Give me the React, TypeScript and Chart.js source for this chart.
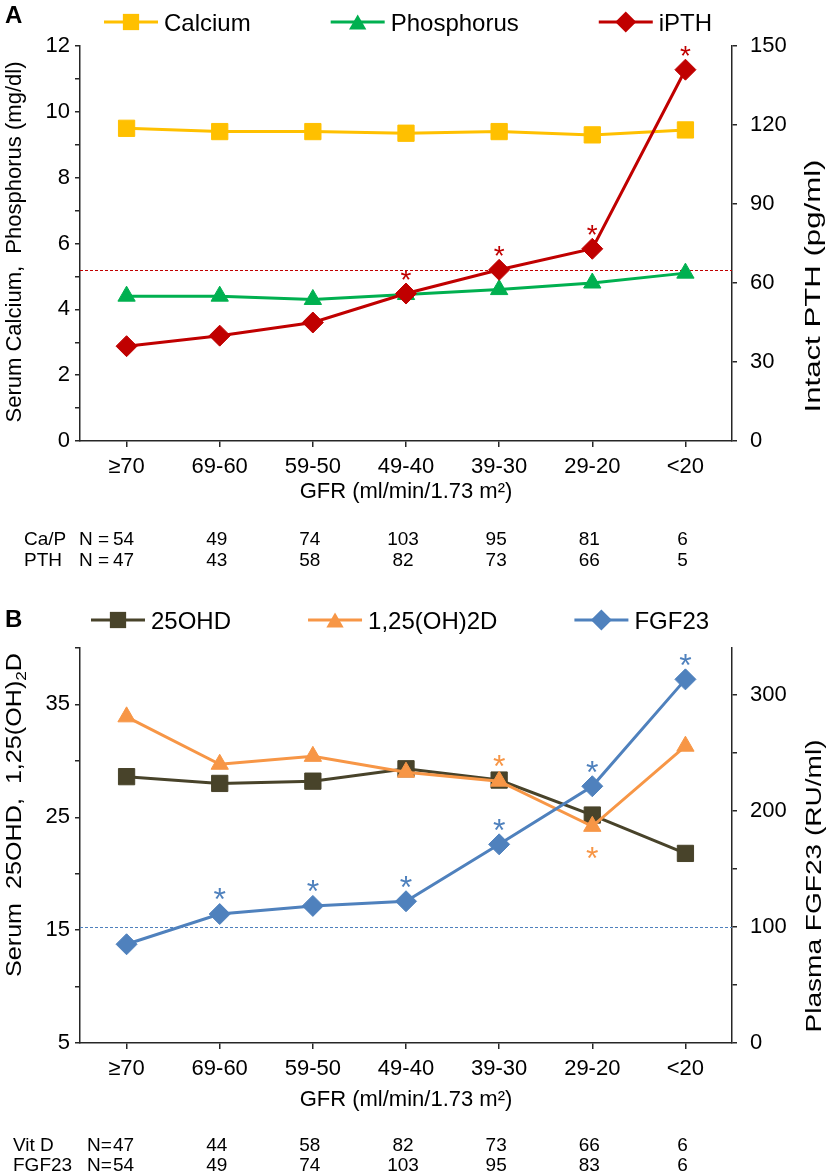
import React, { useEffect, useRef } from 'react';
import { Chart, registerables } from 'chart.js';
import { drawPoint } from 'chart.js/helpers';

Chart.register(...registerables);

// ---------- data ----------
const gfrCategories = ['≥70', '69-60', '59-50', '49-40', '39-30', '29-20', '<20'];

// Panel A
const calcium = [9.5, 9.4, 9.4, 9.35, 9.4, 9.3, 9.45];
const phosphorus = [4.4, 4.4, 4.3, 4.45, 4.6, 4.8, 5.1];
const ipth = [36, 40, 45, 56, 65, 73, 141];
const ipthStars = [0, 0, 0, 1, 1, 1, 1];
const pthUpperNormal = 65;
const caPN = [54, 49, 74, 103, 95, 81, 6];
const pthN = [47, 43, 58, 82, 73, 66, 5];
const leftLabelsA = [0, 2, 4, 6, 8, 10, 12];

// Panel B
const ohd25 = [28.6, 28.0, 28.2, 29.3, 28.3, 25.2, 21.8];
const ohd125 = [33.9, 29.7, 30.4, 29.0, 28.2, 24.2, 31.3];
const fgf23 = [85, 111, 118, 122, 171, 221, 313];
const ohd125Stars = [0, 0, 0, 0, 1, -1, 0];
const fgf23Stars = [0, 1, 1, 1, 1, 1, 1];
const fgf23UpperNormal = 100;
const vitDN = [47, 44, 58, 82, 73, 66, 6];
const fgf23N = [54, 49, 74, 103, 95, 83, 6];
const leftLabelsB = [5, 15, 25, 35];
const rightTicksB = [0, 50, 100, 150, 200, 250, 300];
const rightLabelsB = [0, 100, 200, 300];

// ---------- styles ----------
const FONT = "'Liberation Sans', Arial, Helvetica, sans-serif";
const AXIS = '#262626';
const YEL = '#FFC000';
const GRN = '#00B050';
const RED = '#C00000';
const DARK = '#48432A';
const ORG = '#F79646';
const BLU = '#4F81BD';

type Seg = { text: string; size: number; dy?: number };

function segWidth(ctx: CanvasRenderingContext2D, segs: Seg[]) {
  let w = 0;
  for (const s of segs) {
    ctx.font = `${s.size}px ${FONT}`;
    w += ctx.measureText(s.text).width;
  }
  return w;
}

function drawSegs(ctx: CanvasRenderingContext2D, segs: Seg[], x: number, y: number) {
  let cx = x;
  for (const s of segs) {
    ctx.font = `${s.size}px ${FONT}`;
    ctx.fillText(s.text, cx, y + (s.dy || 0));
    cx += ctx.measureText(s.text).width;
  }
}

function drawRotatedTitle(ctx: CanvasRenderingContext2D, segs: Seg[], cx: number, cy: number, length: number) {
  const w = segWidth(ctx, segs);
  const sx = length / w;
  const base = segs[0].size;
  ctx.save();
  ctx.translate(cx, cy);
  ctx.rotate(-Math.PI / 2);
  ctx.scale(sx, 1);
  ctx.fillStyle = '#000';
  ctx.textAlign = 'left';
  ctx.textBaseline = 'alphabetic';
  drawSegs(ctx, segs, -w / 2, base * 0.3);
  ctx.restore();
}

type PanelCfg = {
  letter: string;
  letterY: number;
  legendY: number;
  legendX: number;
  legendGap: number;
  titles: { segs: Seg[]; cx: number; cy: number; length: number }[];
  refLine: { axis: string; value: number; color: string };
  stars: { ds: number; marks: number[]; color: string; up: number; down: number; size: number }[];
  nRows: { label: string; labelX: number; nLabel: string; nX: number; values: number[]; y: number }[];
};

function makePlugin(cfg: PanelCfg) {
  return {
    id: 'panelDecor' + cfg.letter,
    beforeDatasetsDraw(chart: any) {
      const ctx: CanvasRenderingContext2D = chart.ctx;
      const { left, right } = chart.chartArea;
      const y = chart.scales[cfg.refLine.axis].getPixelForValue(cfg.refLine.value);
      ctx.save();
      ctx.strokeStyle = cfg.refLine.color;
      ctx.lineWidth = 1;
      ctx.setLineDash([3, 2]);
      ctx.beginPath();
      ctx.moveTo(left, Math.round(y) + 0.5);
      ctx.lineTo(right, Math.round(y) + 0.5);
      ctx.stroke();
      ctx.restore();
    },
    afterDraw(chart: any) {
      const ctx: CanvasRenderingContext2D = chart.ctx;
      ctx.save();
      // panel letter
      ctx.fillStyle = '#000';
      ctx.font = `bold 24px ${FONT}`;
      ctx.textAlign = 'left';
      ctx.textBaseline = 'alphabetic';
      ctx.fillText(cfg.letter, 5, cfg.letterY + 24 * 0.358);

      // legend
      let x = cfg.legendX;
      const ds = chart.data.datasets;
      for (let i = 0; i < ds.length; i++) {
        const d = ds[i];
        const cy = cfg.legendY;
        ctx.strokeStyle = d.borderColor;
        ctx.lineWidth = 3;
        ctx.setLineDash([]);
        ctx.beginPath();
        ctx.moveTo(x, cy);
        ctx.lineTo(x + 54, cy);
        ctx.stroke();
        ctx.fillStyle = d.borderColor;
        const adj = d.pointStyle === 'triangle' ? d.pointRadius / 4 : 0;
        drawPoint(ctx, { pointStyle: d.pointStyle, rotation: 0, radius: d.pointRadius, borderWidth: 0 } as any, x + 27, cy + adj);
        ctx.fillStyle = '#000';
        ctx.font = `24px ${FONT}`;
        ctx.fillText(d.label, x + 60, cy + 24 * 0.358);
        x += 60 + ctx.measureText(d.label).width + cfg.legendGap;
      }

      // axis titles
      for (const t of cfg.titles) drawRotatedTitle(ctx, t.segs, t.cx, t.cy, t.length);

      // asterisks
      for (const s of cfg.stars) {
        const meta = chart.getDatasetMeta(s.ds);
        ctx.fillStyle = s.color;
        ctx.font = `${s.size}px ${FONT}`;
        ctx.textAlign = 'center';
        s.marks.forEach((m, i) => {
          if (!m) return;
          const p = meta.data[i];
          const cy = m > 0 ? p.y - s.up : p.y + s.down;
          ctx.fillText('*', p.x, cy + s.size * 0.575);
        });
      }

      // N rows
      const xs = chart.scales.x;
      ctx.fillStyle = '#000';
      ctx.font = `19px ${FONT}`;
      for (const r of cfg.nRows) {
        const by = r.y + 19 * 0.358;
        ctx.textAlign = 'left';
        ctx.fillText(r.label, r.labelX, by);
        ctx.fillText(r.nLabel, r.nX, by);
        ctx.textAlign = 'center';
        r.values.forEach((v, i) => {
          ctx.fillText(String(v), xs.getPixelForValue(i) - 3, by);
        });
      }
      ctx.restore();
    },
  };
}

function axisCommon(extra: any) {
  return {
    grid: { display: true, drawOnChartArea: false, drawTicks: true, tickLength: 5, color: AXIS, lineWidth: 1.5 },
    border: { display: true, color: AXIS, width: 1.5 },
    ...extra,
  };
}

function xAxis(height: number) {
  return {
    type: 'category',
    offset: true,
    grid: { display: true, drawOnChartArea: false, drawTicks: true, tickLength: 6, offset: false, color: AXIS, lineWidth: 1.5 },
    border: { display: true, color: AXIS, width: 1.5 },
    ticks: { color: '#000', font: { family: FONT, size: 22 }, padding: 7, maxRotation: 0, autoSkip: false },
    title: { display: true, text: 'GFR (ml/min/1.73 m²)', color: '#000', font: { family: FONT, size: 22 }, padding: { top: 0, bottom: 2 } },
    afterFit: (s: any) => { s.height = height; },
  };
}

function lineDs(label: string, data: number[], color: string, pointStyle: string, radius: number, axis: string, order: number) {
  return {
    label,
    data,
    yAxisID: axis,
    borderColor: color,
    backgroundColor: color,
    pointBackgroundColor: color,
    pointBorderColor: color,
    pointBorderWidth: 1,
    pointStyle,
    pointRadius: radius,
    borderWidth: 3,
    tension: 0,
    order,
  };
}

function configA(): any {
  const cfg: PanelCfg = {
    letter: 'A',
    letterY: 14,
    legendY: 22,
    legendX: 104,
    legendGap: 80,
    titles: [
      { segs: [{ text: 'Serum Calcium,  Phosphorus (mg/dl)', size: 22 }], cx: 14, cy: 242, length: 361 },
      { segs: [{ text: 'Intact PTH (pg/ml)', size: 22 }], cx: 813, cy: 286, length: 253 },
    ],
    refLine: { axis: 'y1', value: pthUpperNormal, color: RED },
    stars: [{ ds: 2, marks: ipthStars, color: RED, up: 21, down: 22, size: 28 }],
    nRows: [
      { label: 'Ca/P', labelX: 24, nLabel: 'N =  ', nX: 79, values: caPN, y: 538 },
      { label: 'PTH', labelX: 24, nLabel: 'N =  ', nX: 79, values: pthN, y: 559 },
    ],
  };
  return {
    type: 'line',
    data: {
      labels: gfrCategories,
      datasets: [
        lineDs('Calcium', calcium, YEL, 'rect', 11.5, 'y', 3),
        lineDs('Phosphorus', phosphorus, GRN, 'triangle', 10, 'y', 2),
        lineDs('iPTH', ipth, RED, 'rectRot', 10.5, 'y1', 1),
      ],
    },
    options: {
      responsive: false,
      maintainAspectRatio: false,
      animation: false,
      events: [],
      layout: { padding: { top: 46, bottom: 73, left: 0, right: 0 } },
      plugins: { legend: { display: false }, tooltip: { enabled: false } },
      scales: {
        x: xAxis(66),
        y: axisCommon({
          position: 'left', min: 0, max: 12,
          ticks: { stepSize: 1, autoSkip: false, padding: 5, color: '#000', font: { family: FONT, size: 22 }, callback: (v: number) => (leftLabelsA.includes(v) ? String(v) : '') },
          afterFit: (s: any) => { s.width = 80; },
        }),
        y1: axisCommon({
          position: 'right', min: 0, max: 150,
          ticks: { stepSize: 30, autoSkip: false, padding: 13, color: '#000', font: { family: FONT, size: 22 } },
          afterFit: (s: any) => { s.width = 95; },
        }),
      },
    },
    plugins: [makePlugin(cfg)],
  };
}

function configB(): any {
  const cfg: PanelCfg = {
    letter: 'B',
    letterY: 38,
    legendY: 40,
    legendX: 91,
    legendGap: 77,
    titles: [
      { segs: [{ text: 'Serum  25OHD,  1,25(OH)', size: 22 }, { text: '2', size: 15, dy: 5 }, { text: 'D', size: 22 }], cx: 14, cy: 235, length: 324 },
      { segs: [{ text: 'Plasma FGF23 (RU/ml)', size: 22 }], cx: 814, cy: 306, length: 293 },
    ],
    refLine: { axis: 'y1', value: fgf23UpperNormal, color: BLU },
    stars: [
      { ds: 2, marks: fgf23Stars, color: BLU, up: 22, down: 24, size: 32 },
      { ds: 1, marks: ohd125Stars, color: ORG, up: 23, down: 24, size: 32 },
    ],
    nRows: [
      { label: 'Vit D', labelX: 13, nLabel: 'N=', nX: 87, values: vitDN, y: 564 },
      { label: 'FGF23', labelX: 13, nLabel: 'N=', nX: 87, values: fgf23N, y: 584 },
    ],
  };
  return {
    type: 'line',
    data: {
      labels: gfrCategories,
      datasets: [
        lineDs('25OHD', ohd25, DARK, 'rect', 11.5, 'y', 3),
        lineDs('1,25(OH)2D', ohd125, ORG, 'triangle', 10, 'y', 2),
        lineDs('FGF23', fgf23, BLU, 'rectRot', 10.5, 'y1', 1),
      ],
    },
    options: {
      responsive: false,
      maintainAspectRatio: false,
      animation: false,
      events: [],
      layout: { padding: { top: 68, bottom: 58, left: 0, right: 0 } },
      plugins: { legend: { display: false }, tooltip: { enabled: false } },
      scales: {
        x: xAxis(72),
        y: axisCommon({
          position: 'left', min: 5, max: 40,
          ticks: { stepSize: 5, autoSkip: false, padding: 5, color: '#000', font: { family: FONT, size: 22 }, callback: (v: number) => (leftLabelsB.includes(v) ? String(v) : '') },
          afterFit: (s: any) => { s.width = 80; },
        }),
        y1: axisCommon({
          position: 'right', min: 0, max: 340,
          ticks: { autoSkip: false, padding: 13, color: '#000', font: { family: FONT, size: 22 }, callback: (v: number) => (rightLabelsB.includes(v) ? String(v) : '') },
          afterBuildTicks: (s: any) => { s.ticks = rightTicksB.map((v) => ({ value: v })); },
          afterFit: (s: any) => { s.width = 95; },
        }),
      },
    },
    plugins: [makePlugin(cfg)],
  };
}

export default function App() {
  const refA = useRef<HTMLCanvasElement>(null);
  const refB = useRef<HTMLCanvasElement>(null);
  useEffect(() => {
    const a = new Chart(refA.current as HTMLCanvasElement, configA());
    const b = new Chart(refB.current as HTMLCanvasElement, configB());
    return () => {
      a.destroy();
      b.destroy();
    };
  }, []);
  return (
    <div style={{ position: 'absolute', left: 0, top: 0, width: 827, height: 1173, background: '#fff' }}>
      <canvas ref={refA} width={827} height={580} style={{ position: 'absolute', left: 0, top: 0, width: 827, height: 580 }} />
      <canvas ref={refB} width={827} height={593} style={{ position: 'absolute', left: 0, top: 580, width: 827, height: 593 }} />
    </div>
  );
}
